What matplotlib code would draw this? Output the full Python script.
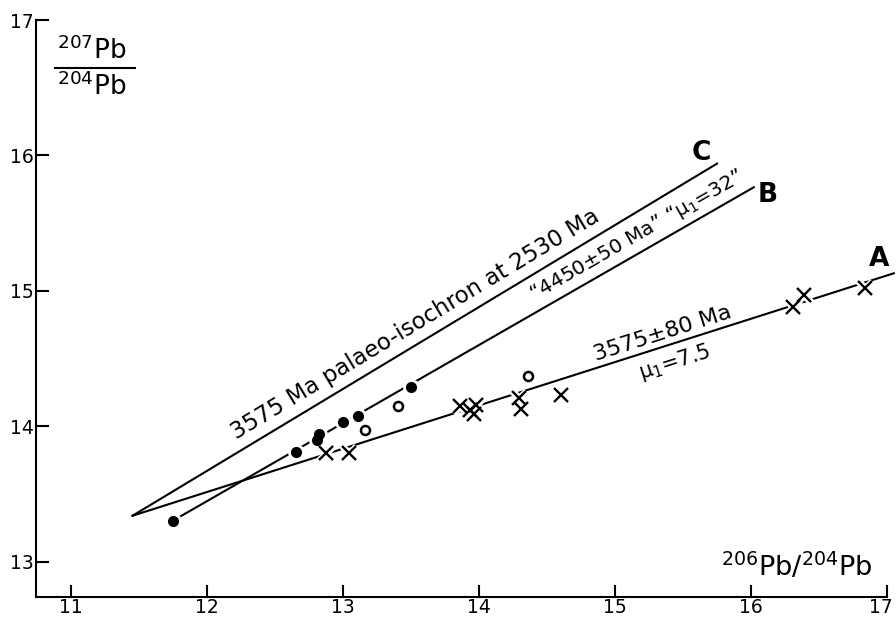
import numpy as np
import matplotlib
matplotlib.use("Agg")
import matplotlib.pyplot as plt
import matplotlib.transforms as mtransforms
from matplotlib.lines import Line2D

plt.rcParams['font.family'] = ['DejaVu Sans']
plt.rcParams['mathtext.fontset'] = 'dejavusans'

# filled dots
dots_x = [11.75, 12.65, 12.81, 12.82, 13.00, 13.11, 13.50]
dots_y = [13.30, 13.81, 13.90, 13.94, 14.03, 14.08, 14.29]
# open circles
open_x = [13.16, 13.40, 14.36]
open_y = [13.97, 14.15, 14.37]
# crosses
cross_x = [12.87, 13.04, 13.86, 13.93, 13.98, 13.96, 14.29, 14.31, 14.60, 16.31, 16.39, 16.84]
cross_y = [13.80, 13.80, 14.15, 14.12, 14.16, 14.09, 14.21, 14.13, 14.23, 14.88, 14.97, 15.02]

# lines A, B, C (end points)
lineA_x = [11.45, 17.05]
lineA_y = [13.34, 15.13]
lineB_x = [11.75, 16.02]
lineB_y = [13.305, 15.765]
lineC_x = [11.45, 15.75]
lineC_y = [13.34, 15.94]

xticks = [11, 12, 13, 14, 15, 16, 17]
yticks = [13, 14, 15, 16, 17]

fig = plt.figure(figsize=(8.96, 6.2), dpi=100)
ax = fig.add_axes([36/896, 1-597/620, (887-36)/896, (597-20)/620])
ax.set_xlim(10.74, 17.0)
ax.set_ylim(12.74, 17.0)

lw = 1.5
for lx, ly in [(lineA_x, lineA_y), (lineB_x, lineB_y), (lineC_x, lineC_y)]:
    ax.plot(lx, ly, color='black', lw=lw, clip_on=False, zorder=2)

# white halos so lines break around the symbols
ax.plot(cross_x, cross_y, 'x', color='white', ms=10, mew=5, ls='none', zorder=3)
ax.plot(dots_x, dots_y, 'o', color='white', ms=11, ls='none', zorder=3)
ax.plot(open_x, open_y, 'o', color='white', ms=10, ls='none', zorder=3)

ax.plot(cross_x, cross_y, 'x', color='black', ms=9.5, mew=1.7, ls='none', zorder=4)
ax.plot(dots_x, dots_y, 'o', color='black', ms=7, ls='none', zorder=4)
ax.plot(open_x, open_y, 'o', mfc='white', mec='black', ms=6.5, mew=1.8, ls='none', zorder=4)

ax.spines['top'].set_visible(False)
ax.spines['right'].set_visible(False)
ax.spines['left'].set_linewidth(1.5)
ax.spines['bottom'].set_linewidth(1.5)
ax.set_xticks(xticks)
ax.set_yticks(yticks)
ax.tick_params(axis='both', direction='in', length=9, width=1.5, labelsize=13.5)
ax.tick_params(axis='y', pad=1.5)
ax.tick_params(axis='x', pad=1)
# keep the last x label inside the picture
last = ax.get_xticklabels()[-1]
last.set_transform(last.get_transform() + mtransforms.ScaledTranslation(-6/100, 0, fig.dpi_scale_trans))


def angle_of(lx, ly):
    p = ax.transData.transform(np.column_stack([lx, ly]))
    return np.degrees(np.arctan2(p[1, 1] - p[0, 1], p[1, 0] - p[0, 0]))


def line_label(lx, ly, xpos, text, perp, size):
    ang = angle_of(lx, ly)
    slope = (ly[1] - ly[0]) / (lx[1] - lx[0])
    ypos = ly[0] + slope * (xpos - lx[0])
    r = np.radians(ang)
    dx, dy = -np.sin(r) * perp, np.cos(r) * perp
    ax.annotate(text, xy=(xpos, ypos), xytext=(dx, dy), textcoords='offset points',
                rotation=ang, rotation_mode='anchor', ha='center', va='center',
                fontsize=size)


line_label(lineC_x, lineC_y, 13.60, '3575 Ma palaeo-isochron at 2530 Ma', 12.5, 16.5)
line_label(lineB_x, lineB_y, 15.22, '\u201c4450\u00b150 Ma\u201d \u201c\u03bc$_1$=32\u201d', 12, 14.5)
line_label(lineA_x, lineA_y, 15.38, '3575\u00b180 Ma', 9.5, 16)
line_label(lineA_x, lineA_y, 15.40, '\u03bc$_1$=7.5', -13, 15)

# curve letters
for letter, px, py in [('C', 701, 153), ('B', 768, 195), ('A', 879, 259)]:
    ax.annotate(letter, xy=(px/896, 1-py/620), xycoords='figure fraction', ha='center',
                va='center', fontsize=19, fontweight='bold')

# axis titles
fig.text(92/896, 1-51/620, '$^{207}$Pb', ha='center', va='center', fontsize=19)
fig.text(92/896, 1-87/620, '$^{204}$Pb', ha='center', va='center', fontsize=19)
fig.add_artist(Line2D([55/896, 135/896], [1-68/620, 1-68/620], color='black', lw=1.5))
fig.text(872/896, 1-567/620, '$^{206}$Pb/$^{204}$Pb', ha='right', va='center', fontsize=19.5)

fig.savefig('out.png', dpi=100)
